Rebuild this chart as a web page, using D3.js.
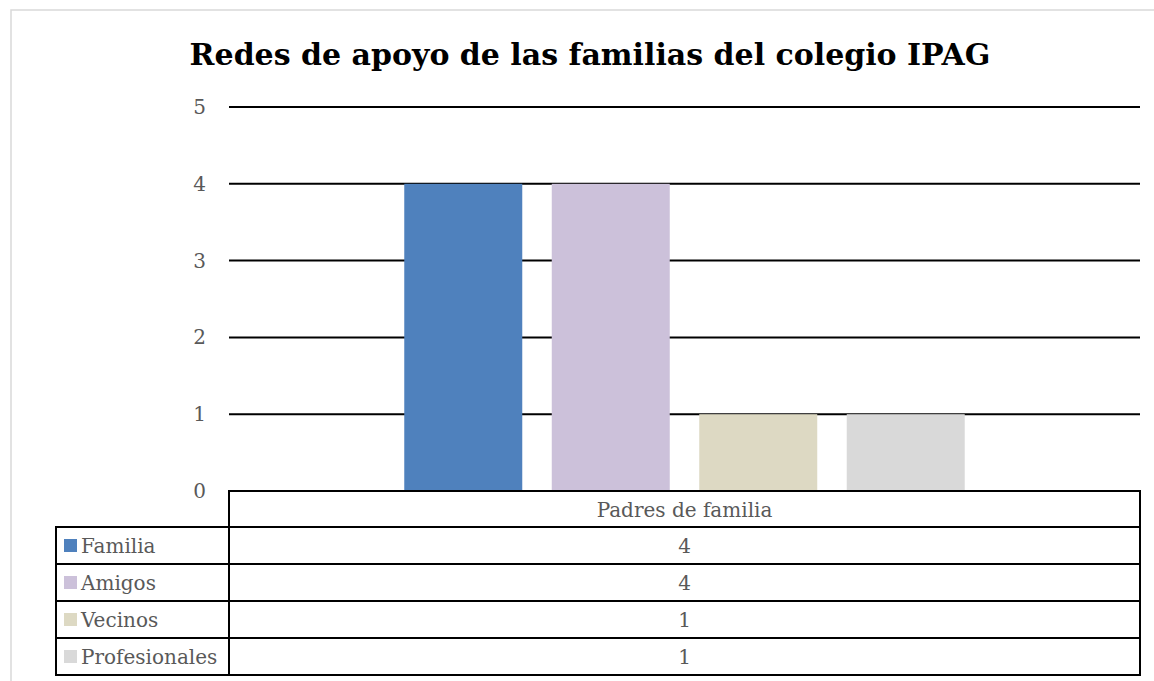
<!DOCTYPE html>
<html>
<head>
<meta charset="utf-8">
<script src="https://cdn.jsdelivr.net/npm/d3@7"></script>
<style>
  body { margin: 0; background: #fff; }
  svg { display: block; }
  text { font-family: "DejaVu Serif", serif; }
</style>
</head>
<body>
<div id="chart"></div>
<script>
// data
var categories = ["Padres de familia"];
var seriesNames = ["Familia", "Amigos", "Vecinos", "Profesionales"];
var seriesValues = [4, 4, 1, 1];
var yTicks = [0, 1, 2, 3, 4, 5];
var seriesColors = ["#4F81BD", "#CCC1DA", "#DDD9C3", "#D9D9D9"];

var width = 1154, height = 681;
var plot = { left: 229, right: 1140, top: 107, bottom: 491 };
var rowH = 37, tableLeft = 56;

var svg = d3.select("#chart").append("svg")
  .attr("width", width)
  .attr("height", height);

// outer frame
svg.append("rect")
  .attr("x", 11).attr("y", 10)
  .attr("width", width).attr("height", height)
  .attr("fill", "none")
  .attr("stroke", "#D9D9D9")
  .attr("stroke-width", 1.5);

svg.append("text")
  .attr("x", 590)
  .attr("y", 65)
  .attr("text-anchor", "middle")
  .style("font-size", "30px")
  .style("font-weight", "bold")
  .attr("fill", "#000")
  .text("Redes de apoyo de las familias del colegio IPAG");

var yScale = d3.scaleLinear()
  .domain([0, 5])
  .range([plot.bottom, plot.top]);

var x0 = d3.scaleBand()
  .domain(categories)
  .range([plot.left, plot.right])
  .paddingOuter(0.3127);

var x1 = d3.scaleBand()
  .domain(seriesNames)
  .range([0, x0.bandwidth()])
  .paddingInner(0.2);

// gridlines
svg.append("g")
  .selectAll("line")
  .data(yTicks.filter(function (d) { return d > 0; }))
  .enter()
  .append("line")
  .attr("x1", plot.left)
  .attr("x2", plot.right)
  .attr("y1", function (d) { return yScale(d); })
  .attr("y2", function (d) { return yScale(d); })
  .attr("stroke", "#000")
  .attr("stroke-width", 2);

// y axis labels
var yAxis = svg.append("g")
  .attr("transform", "translate(" + (plot.left - 23) + ",0)")
  .call(d3.axisLeft(yScale).tickValues(yTicks).tickFormat(d3.format("d")).tickSize(0).tickPadding(0));
yAxis.select(".domain").remove();
yAxis.selectAll("text")
  .style("font-family", "DejaVu Serif, serif")
  .style("font-size", "20px")
  .attr("fill", "#595959");

// bars
svg.append("g")
  .selectAll("rect")
  .data(seriesNames)
  .enter()
  .append("rect")
  .attr("x", function (d) { return x0(categories[0]) + x1(d); })
  .attr("y", function (d, i) { return yScale(seriesValues[i]); })
  .attr("width", x1.bandwidth())
  .attr("height", function (d, i) { return yScale(0) - yScale(seriesValues[i]); })
  .attr("fill", function (d, i) { return seriesColors[i]; });

// data table
var table = svg.append("g")
  .attr("fill", "none")
  .attr("stroke", "#000")
  .attr("stroke-width", 2);

// header cell
table.append("rect")
  .attr("x", plot.left).attr("y", plot.bottom)
  .attr("width", plot.right - plot.left).attr("height", rowH - 1);

var rowTop = function (i) { return plot.bottom + rowH - 1 + i * rowH; };

table.selectAll(".rowL")
  .data(seriesNames)
  .enter()
  .append("rect")
  .attr("x", tableLeft)
  .attr("y", function (d, i) { return rowTop(i); })
  .attr("width", plot.left - tableLeft)
  .attr("height", rowH);

table.selectAll(".rowR")
  .data(seriesNames)
  .enter()
  .append("rect")
  .attr("x", plot.left)
  .attr("y", function (d, i) { return rowTop(i); })
  .attr("width", plot.right - plot.left)
  .attr("height", rowH);

var cx = x0(categories[0]) + x0.bandwidth() / 2;

svg.append("text")
  .attr("x", cx)
  .attr("y", plot.bottom + rowH / 2)
  .attr("dy", "0.35em")
  .attr("text-anchor", "middle")
  .style("font-size", "20px")
  .attr("fill", "#595959")
  .text(categories[0]);

var rows = svg.append("g")
  .selectAll("g")
  .data(seriesNames)
  .enter()
  .append("g")
  .attr("transform", function (d, i) { return "translate(0," + rowTop(i) + ")"; });

rows.append("rect")
  .attr("x", 64).attr("y", rowH / 2 - 6.5)
  .attr("width", 13).attr("height", 13)
  .attr("fill", function (d, i) { return seriesColors[i]; });

rows.append("text")
  .attr("x", 81).attr("y", rowH / 2)
  .attr("dy", "0.35em")
  .style("font-size", "20px")
  .attr("fill", "#595959")
  .text(function (d) { return d; });

rows.append("text")
  .attr("x", cx).attr("y", rowH / 2)
  .attr("dy", "0.35em")
  .attr("text-anchor", "middle")
  .style("font-size", "20px")
  .attr("fill", "#595959")
  .text(function (d, i) { return seriesValues[i]; });
</script>
</body>
</html>
